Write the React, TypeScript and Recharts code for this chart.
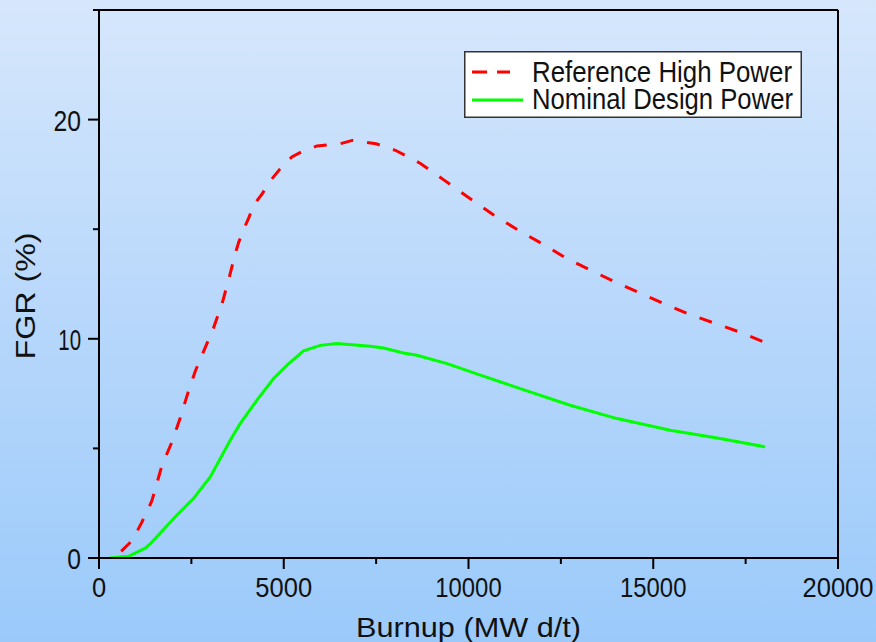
import React from "react";
import { LineChart, Line, XAxis, YAxis, Legend, ReferenceLine } from "recharts";

// burnup (MWd/t) and FGR (%)
const highBurnup = [600, 900, 1150, 1430, 1700, 1975, 2200, 2400, 2600, 2900, 3100, 3330, 3525, 3690, 3780, 3915, 4050, 4185, 4410, 4635, 4900, 5220, 5500, 5900, 6200, 6530, 6850, 7200, 7500, 8020, 8700, 9330, 10000, 10680, 11350, 12030, 12670, 13340, 14020, 14690, 15370, 16000, 16680, 17350, 18000];
const highFgr = [0.3, 0.8, 1.6, 2.6, 4.2, 5.3, 6.4, 7.5, 8.5, 9.7, 10.5, 11.6, 12.8, 13.9, 14.4, 15.0, 15.5, 16.1, 16.6, 17.2, 17.75, 18.3, 18.55, 18.8, 18.85, 18.9, 19.05, 18.97, 18.9, 18.6, 18.0, 17.25, 16.45, 15.65, 14.95, 14.3, 13.65, 13.1, 12.55, 12.05, 11.55, 11.1, 10.7, 10.3, 9.85];

const nomBurnup = [300, 800, 1250, 1400, 2110, 2560, 3010, 3555, 3825, 4275, 4725, 5090, 5535, 5990, 6440, 7340, 7700, 8240, 8600, 9420, 10320, 11400, 12750, 14020, 15460, 16810, 18030];
const nomFgr = [0, 0.08, 0.45, 0.67, 1.96, 2.72, 3.7, 5.38, 6.14, 7.2, 8.19, 8.8, 9.45, 9.7, 9.78, 9.66, 9.58, 9.35, 9.25, 8.87, 8.34, 7.73, 6.97, 6.36, 5.83, 5.45, 5.07];

const xTicks = [0, 2500, 5000, 7500, 10000, 12500, 15000, 17500, 20000];
const yTicks = [0, 5, 10, 15, 20, 25];

const seriesNames = ["Reference High Power", "Nominal Design Power"];

const highData = highBurnup.map((b, i) => ({ burnup: b, fgr: highFgr[i] }));
const nomData = nomBurnup.map((b, i) => ({ burnup: b, fgr: nomFgr[i] }));

const FONT = '"Liberation Sans", Arial, sans-serif';

// the labels are drawn in a narrow face, so squeeze them to the measured width
const widthOf = (s: string, digit: number, one: number) =>
  s.split("").reduce((w, c) => w + (c === "1" ? one : digit), 0);

const XTick = (props: any) => {
  const { x, y, payload } = props;
  const v = payload.value;
  const major = v % 5000 === 0;
  const label = String(v);
  return (
    <g>
      <line x1={x} y1={y - 10} x2={x} y2={y - 10 + (major ? 11 : 6)} stroke="#000" strokeWidth={2} />
      {major && (
        <text x={x} y={y + 29} textAnchor="middle" fontSize={27} fontFamily={FONT} fill="#111"
          textLength={widthOf(label, 14.2, 9.5)} lengthAdjust="spacingAndGlyphs">
          {label}
        </text>
      )}
    </g>
  );
};

const YTick = (props: any) => {
  const { x, y, payload } = props;
  const v = payload.value;
  const major = v % 10 === 0;
  const label = String(v);
  return (
    <g>
      <line x1={x + 10 - (major ? 11 : 6)} y1={y} x2={x + 10} y2={y} stroke="#000" strokeWidth={2} />
      {major && (
        <text x={x - 8} y={y + 11} textAnchor="end" fontSize={30} fontFamily={FONT} fill="#111"
          textLength={widthOf(label, 13.7, 9)} lengthAdjust="spacingAndGlyphs">
          {label}
        </text>
      )}
    </g>
  );
};

const XTitle = (props: any) => {
  const vb = props.viewBox;
  return (
    <text x={vb.x + vb.width / 2} y={vb.y + 79} textAnchor="middle" fontSize={28} fontFamily={FONT}
      fill="#111" textLength={225} lengthAdjust="spacingAndGlyphs">
      Burnup (MW d/t)
    </text>
  );
};

const YTitle = (props: any) => {
  const vb = props.viewBox;
  const cx = 35;
  const cy = vb.y + vb.height / 2 + 12;
  return (
    <text x={cx} y={cy} transform={`rotate(-90, ${cx}, ${cy})`} textAnchor="middle" fontSize={28}
      fontFamily={FONT} fill="#111" textLength={127} lengthAdjust="spacingAndGlyphs">
      FGR (%)
    </text>
  );
};

const LegendBox = () => (
  <svg width={338} height={67} style={{ display: "block" }}>
    <rect x={0.75} y={0.75} width={336.5} height={65.5} fill="#fff" stroke="#333" strokeWidth={1.5} />
    <line x1={8} y1={21} x2={46} y2={21} stroke="#ff0000" strokeWidth={3} strokeDasharray="15 10" />
    <text x={68} y={31} fontSize={29} fontFamily={FONT} fill="#111" textLength={260} lengthAdjust="spacingAndGlyphs">
      {seriesNames[0]}
    </text>
    <line x1={8} y1={49} x2={59} y2={49} stroke="#00ff00" strokeWidth={3} />
    <text x={68} y={57.5} fontSize={29} fontFamily={FONT} fill="#111" textLength={261} lengthAdjust="spacingAndGlyphs">
      {seriesNames[1]}
    </text>
  </svg>
);

export default function App() {
  return (
    <div
      style={{
        position: "absolute",
        left: 0,
        top: 0,
        width: 876,
        height: 642,
        background: "linear-gradient(to bottom, #d6e7fc 0%, #b7d7fb 50%, #9bcafa 100%)",
        overflow: "hidden",
      }}
    >
      <LineChart width={876} height={642} margin={{ top: 10, right: 38, bottom: 0, left: 0 }}>
        <XAxis
          type="number"
          dataKey="burnup"
          domain={[0, 20000]}
          ticks={xTicks}
          allowDataOverflow
          height={84}
          tickSize={10}
          tickMargin={0}
          tickLine={false}
          axisLine={{ stroke: "#000", strokeWidth: 2 }}
          tick={(p: any) => <XTick {...p} />}
          interval={0}
          label={<XTitle />}
        />
        <YAxis
          type="number"
          dataKey="fgr"
          domain={[0, 25]}
          ticks={yTicks}
          allowDataOverflow
          width={99}
          tickSize={10}
          tickMargin={0}
          tickLine={false}
          axisLine={{ stroke: "#000", strokeWidth: 2 }}
          tick={(p: any) => <YTick {...p} />}
          interval={0}
          label={<YTitle />}
        />
        <ReferenceLine y={25} stroke="#000" strokeWidth={2} />
        <ReferenceLine x={20000} stroke="#000" strokeWidth={2} />
        <Line
          data={highData}
          dataKey="fgr"
          name={seriesNames[0]}
          type="linear"
          stroke="#ff0000"
          strokeWidth={3}
          strokeDasharray="13 14"
          dot={false}
          activeDot={false}
          isAnimationActive={false}
        />
        <Line
          data={nomData}
          dataKey="fgr"
          name={seriesNames[1]}
          type="linear"
          stroke="#00ff00"
          strokeWidth={3}
          dot={false}
          activeDot={false}
          isAnimationActive={false}
        />
        <Legend
          layout="vertical"
          align="center"
          verticalAlign="middle"
          content={() => <LegendBox />}
          wrapperStyle={{ position: "absolute", left: 464, top: 51, width: 338, height: 67 }}
        />
      </LineChart>
    </div>
  );
}
